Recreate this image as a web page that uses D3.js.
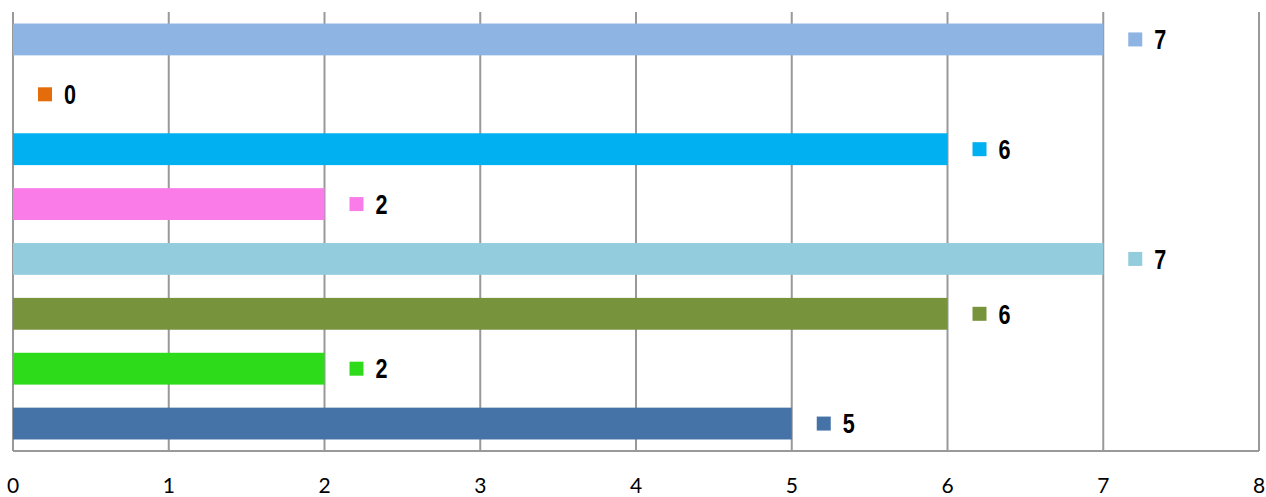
<!DOCTYPE html>
<html><head><meta charset="utf-8">
<script src="https://cdn.jsdelivr.net/npm/d3@7"></script>
<style>body{margin:0;background:#fff;}svg{display:block;}</style>
</head><body>
<svg id="c" width="1266" height="497"></svg>
<script>
const categories = ["c1","c2","c3","c4","c5","c6","c7","c8"];
const values = [7,0,6,2,7,6,2,5];
const colors = ["#8EB4E3","#E46C0A","#00B0F0","#F97CE9","#93CDDD","#77933C","#2DDB1A","#4572A7"];
const xTicks = [0,1,2,3,4,5,6,7,8];

const svg = d3.select("#c");
const m = {left:13, right:7, top:12, bottom:46};
const W = 1266, H = 497;
const x = d3.scaleLinear().domain([0,8]).range([m.left, W-m.right]);
const y = d3.scaleBand().domain(categories).range([m.top, H-m.bottom]).paddingInner(0.42).paddingOuter(0.21);

// gridlines
svg.append("g").selectAll("line").data(xTicks).join("line")
  .attr("x1",d=>x(d)).attr("x2",d=>x(d)).attr("y1",m.top).attr("y2",H-m.bottom)
  .attr("stroke","#999").attr("stroke-width",2);
svg.append("line").attr("x1",x(0)).attr("x2",x(8)).attr("y1",H-m.bottom).attr("y2",H-m.bottom)
  .attr("stroke","#999").attr("stroke-width",2);

// bars
svg.append("g").selectAll("rect").data(values).join("rect")
  .attr("x",x(0)).attr("y",(d,i)=>y(categories[i]))
  .attr("width",d=>x(d)-x(0)).attr("height",y.bandwidth())
  .attr("fill",(d,i)=>colors[i]);

// value labels with marker
const lab = svg.append("g").selectAll("g").data(values).join("g")
  .attr("transform",(d,i)=>`translate(${x(d)},${y(categories[i])+y.bandwidth()/2})`);
lab.append("rect").attr("x",25).attr("y",-7).attr("width",14).attr("height",14).attr("fill",(d,i)=>colors[i]);
lab.append("text").attr("transform","translate(51,0) scale(0.8,1)").attr("dy","0.36em").text(d=>d)
  .attr("font-family","'Liberation Sans', Arial, sans-serif").attr("font-weight","bold")
  .attr("font-size",27).attr("fill","#000");

// axis tick labels
svg.append("g").selectAll("text").data(xTicks).join("text")
  .attr("x",d=>x(d)).attr("y",493).attr("text-anchor","middle")
  .attr("font-family","Lato, 'Open Sans', sans-serif").attr("font-size",21).attr("fill","#000")
  .text(d=>d);
</script>
</body></html>
